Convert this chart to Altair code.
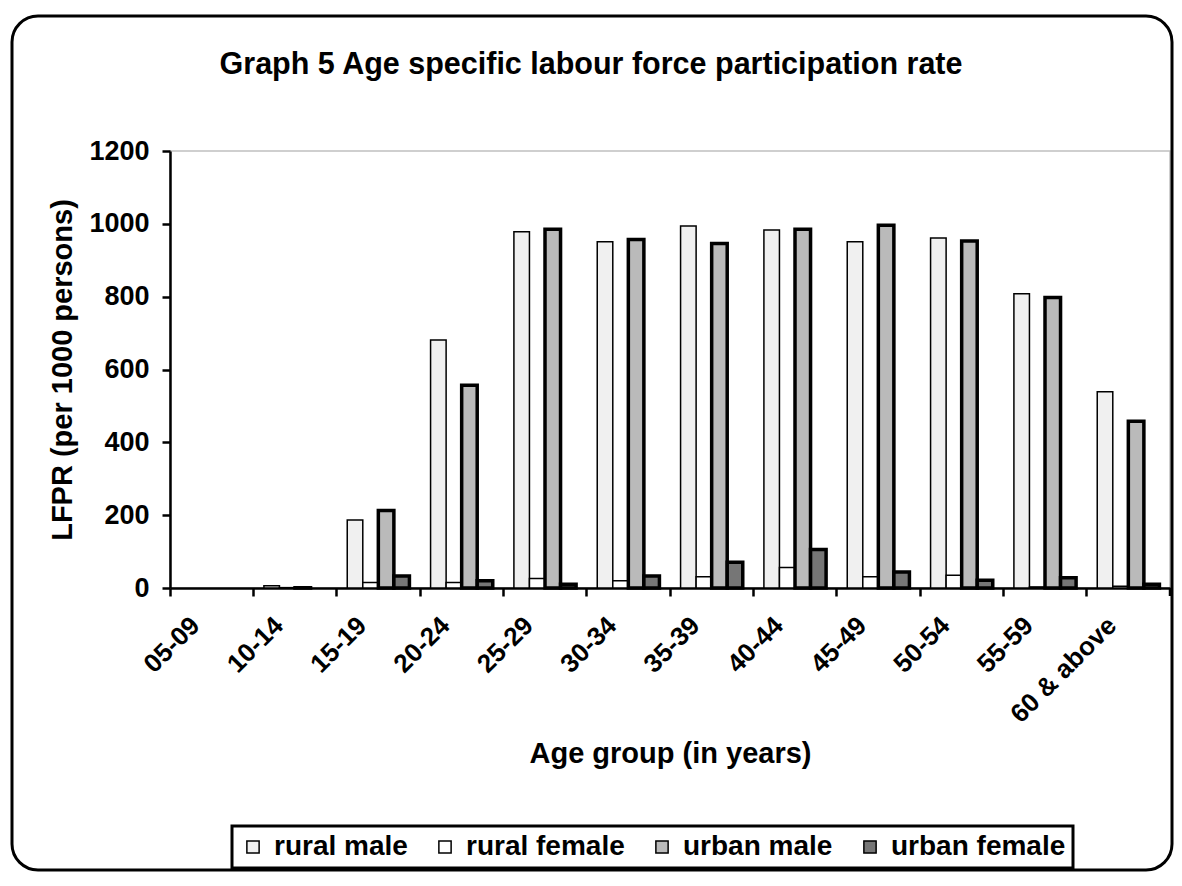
import altair as alt
import pandas as pd

ages = ["05-09", "10-14", "15-19", "20-24", "25-29", "30-34", "35-39",
        "40-44", "45-49", "50-54", "55-59", "60 & above"]
series_names = ["rural male", "rural female", "urban male", "urban female"]
rural_male = [0, 6, 187, 681, 978, 951, 994, 983, 951, 961, 808, 539]
rural_female = [0, 1, 15, 15, 26, 20, 31, 56, 31, 35, 3, 5]
urban_male = [0, 1, 213, 557, 985, 957, 946, 985, 996, 953, 798, 458]
urban_female = [0, 0, 33, 20, 10, 33, 71, 106, 44, 21, 28, 10]
y_ticks = [0, 200, 400, 600, 800, 1000, 1200]
title_text = "Graph 5 Age specific labour force participation rate"

fills = ["#f0f0f0", "#ffffff", "#bababa", "#767676"]

rows = []
for name, vals in zip(series_names, [rural_male, rural_female, urban_male, urban_female]):
    for a, v in zip(ages, vals):
        rows.append({"age": a, "series": name, "value": v})
df = pd.DataFrame(rows)

FONT = "Liberation Sans"
W, H = 1000, 437

bars = alt.Chart(df).mark_bar(stroke="black").encode(
    x=alt.X("age:N", sort=ages,
            scale=alt.Scale(paddingInner=0, paddingOuter=0),
            axis=alt.Axis(title="Age group (in years)", labelAngle=-45,
                          labelAlign="right", labelBaseline="middle",
                          labelPadding=25, labelOffset=-16, bandPosition=0,
                          labelFontSize=26,
                          titleY=165, titleBaseline="middle", titleFontSize=29)),
    xOffset=alt.XOffset("series:N", sort=series_names,
                        scale=alt.Scale(paddingOuter=0.68, paddingInner=0)),
    y=alt.Y("value:Q", scale=alt.Scale(domain=[0, 1200]),
            axis=alt.Axis(title="LFPR (per 1000 persons)", values=y_ticks,
                          format="d", grid=False, labelPadding=13, titleX=-108,
                          titleY=H / 2, titleAngle=-90, titleAlign="center",
                          titleBaseline="middle", titleFontSize=29)),
    fill=alt.Fill("series:N", sort=series_names,
                  scale=alt.Scale(domain=series_names, range=fills),
                  legend=alt.Legend(title=None, orient="none", legendX=62,
                                    legendY=675, direction="horizontal")),
    strokeWidth=alt.condition(
        alt.FieldOneOfPredicate(field="series", oneOf=["urban male", "urban female"]),
        alt.value(3.5), alt.value(1.5)),
    strokeOpacity=alt.condition(alt.datum.value > 0, alt.value(1), alt.value(0)),
)

end_tick = alt.Chart(pd.DataFrame({"t": [0]})).mark_rule(
    color="black", strokeWidth=2.5).encode(
    x=alt.value(W), y=alt.value(H), y2=alt.value(H + 8))

frame = alt.Chart(pd.DataFrame({"t": [0]})).mark_rect(
    fill="transparent", stroke="black", strokeWidth=3, cornerRadius=26,
    clip=False).encode(
    x=alt.value(-158), x2=alt.value(1002), y=alt.value(-135), y2=alt.value(719))

title = alt.Chart(pd.DataFrame({"t": [title_text]})).mark_text(
    font=FONT, fontSize=30.5, fontWeight="bold", color="black",
    align="center", baseline="alphabetic").encode(
    text="t:N", x=alt.value(421), y=alt.value(-77))

chart = alt.layer(frame, bars, end_tick, title).properties(
    width=W, height=H,
    autosize=alt.AutoSizeParams(type="none"),
    padding={"left": 162, "top": 143, "right": 4, "bottom": 284},
).configure_view(
    stroke="#c0c0c0", strokeWidth=1.5
).configure_axis(
    labelFont=FONT, titleFont=FONT, labelFontSize=27, labelFontWeight="bold",
    titleFontWeight="bold", labelColor="black", titleColor="black",
    domainColor="black", domainWidth=2.5, tickColor="black", tickWidth=2.5,
    tickSize=8,
).configure_legend(
    labelFont=FONT, labelFontSize=28, labelFontWeight="bold", labelColor="black",
    labelLimit=400, symbolType="square", symbolSize=150, symbolStrokeColor="black",
    symbolStrokeWidth=1.5, strokeColor="black", strokeWidth=3, padding=7,
    columnPadding=23, labelOffset=7,
)

chart.save("out.html", embed_options={"renderer": "svg", "actions": False})
